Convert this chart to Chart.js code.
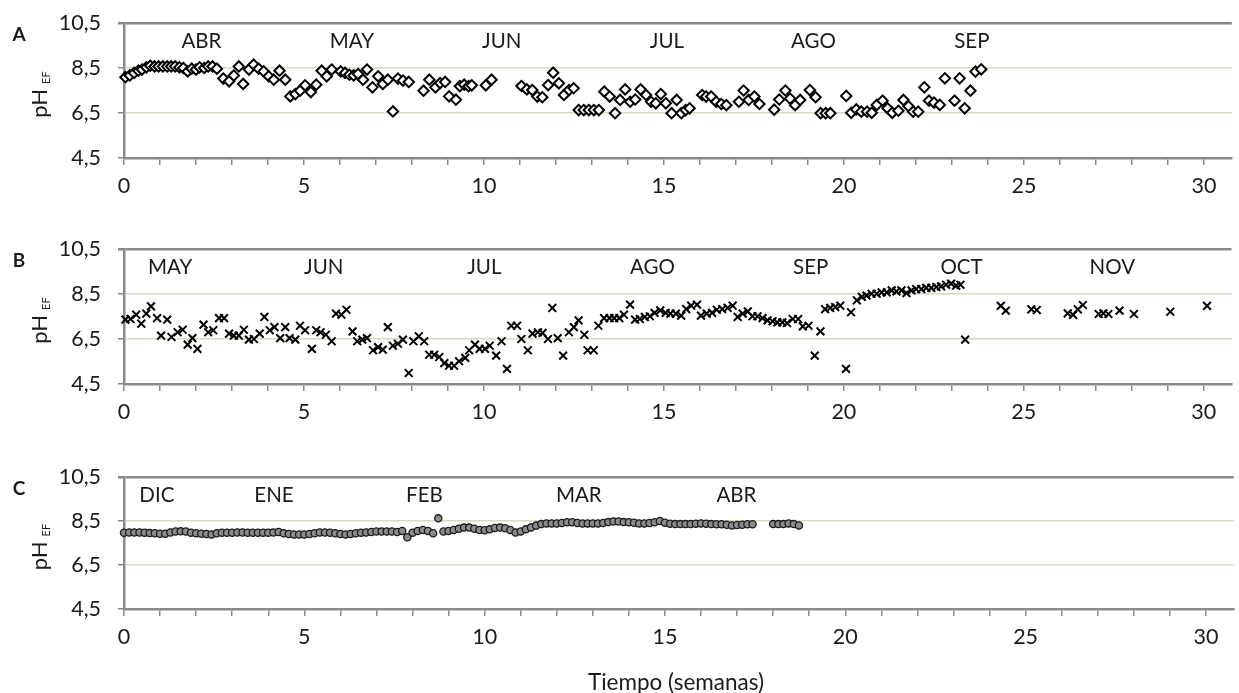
<!DOCTYPE html>
<html>
<head>
<meta charset="utf-8">
<script src="https://cdn.jsdelivr.net/npm/chart.js@4.4.1/dist/chart.umd.min.js"></script>
<style>
  html, body { margin: 0; padding: 0; background: #fff; }
  #wrap { position: relative; width: 1239px; height: 693px; overflow: hidden; }
  canvas { position: absolute; left: 0; }
</style>
</head>
<body>
<div id="wrap">
  <canvas id="cA" width="1239" height="215" style="top:0px"></canvas>
  <canvas id="cB" width="1239" height="215" style="top:226px"></canvas>
  <canvas id="cC" width="1239" height="239" style="top:454px"></canvas>
</div>
<script>
// ---- axis ticks ----
const xTicks = [0,1,2,3,4,5,6,7,8,9,10,11,12,13,14,15,16,17,18,19,20,21,22,23,24,25,26,27,28,29,30];
const yTicks = [4.5, 6.5, 8.5, 10.5];

// ---- panel A : tiempo (semanas) y pH efluente ----
const aWeeks = [0.04,0.16,0.28,0.40,0.50,0.62,0.73,0.85,0.96,1.08,1.20,1.31,1.42,1.54,1.65,1.77,1.88,2.00,2.10,2.23,2.34,2.46,2.58,2.76,2.92,3.05,3.19,3.31,3.47,3.60,3.74,3.88,4.02,4.16,4.32,4.48,4.62,4.76,4.89,5.03,5.19,5.34,5.49,5.63,5.77,6.02,6.14,6.26,6.38,6.50,6.64,6.75,6.90,7.06,7.19,7.33,7.47,7.61,7.75,7.91,8.32,8.48,8.65,8.78,8.92,9.03,9.22,9.33,9.45,9.57,9.66,10.05,10.21,11.04,11.19,11.34,11.48,11.62,11.78,11.92,12.08,12.22,12.36,12.49,12.63,12.77,12.91,13.05,13.19,13.34,13.49,13.64,13.78,13.92,14.06,14.20,14.35,14.50,14.64,14.77,14.91,15.05,15.21,15.35,15.48,15.60,15.71,16.06,16.17,16.31,16.45,16.59,16.73,17.08,17.21,17.35,17.51,17.65,18.06,18.20,18.37,18.50,18.64,18.78,19.05,19.21,19.35,19.49,19.62,20.06,20.20,20.34,20.48,20.64,20.77,20.91,21.07,21.21,21.34,21.51,21.65,21.79,21.92,22.06,22.23,22.36,22.50,22.66,22.80,23.07,23.21,23.35,23.51,23.65,23.81];
const aPH = [8.09,8.17,8.28,8.38,8.43,8.53,8.60,8.57,8.57,8.57,8.57,8.57,8.57,8.53,8.50,8.35,8.47,8.43,8.53,8.50,8.57,8.57,8.47,8.03,7.91,8.17,8.57,7.79,8.43,8.65,8.47,8.35,8.13,7.98,8.38,7.98,7.24,7.34,7.49,7.73,7.43,7.76,8.38,8.13,8.43,8.35,8.28,8.20,8.17,8.23,7.98,8.43,7.64,8.13,7.79,7.98,6.57,8.03,7.94,7.88,7.49,7.98,7.64,7.83,7.88,7.24,7.09,7.69,7.76,7.69,7.73,7.73,7.98,7.70,7.55,7.52,7.23,7.20,7.74,8.29,7.82,7.30,7.52,7.60,6.63,6.63,6.63,6.63,6.63,7.45,7.23,6.49,7.08,7.55,7.00,7.10,7.55,7.30,7.00,6.93,7.34,6.93,6.49,7.08,6.49,6.63,6.71,7.30,7.23,7.23,7.00,6.90,6.85,7.00,7.50,7.08,7.23,6.90,6.65,7.10,7.50,7.14,6.85,7.08,7.52,7.20,6.49,6.49,6.49,7.26,6.51,6.66,6.56,6.56,6.51,6.86,7.05,6.71,6.51,6.60,7.08,6.80,6.56,6.56,7.64,7.05,6.96,6.86,8.04,7.05,8.04,6.71,7.49,8.34,8.44];
const monthsA = ['ABR','MAY','JUN','JUL','AGO','SEP'];
const monthWeeksA = [2.15, 6.33, 10.49, 15.08, 19.15, 23.55];

// ---- panel B ----
const bWeeks = [0.04,0.18,0.34,0.48,0.62,0.75,0.92,1.03,1.20,1.32,1.49,1.63,1.77,1.90,2.04,2.21,2.34,2.48,2.64,2.78,2.92,3.05,3.19,3.33,3.47,3.61,3.77,3.90,4.05,4.18,4.34,4.48,4.60,4.76,4.89,5.03,5.22,5.34,5.46,5.61,5.77,5.89,6.04,6.18,6.35,6.48,6.62,6.75,6.92,7.06,7.19,7.33,7.47,7.61,7.75,7.91,8.04,8.19,8.34,8.48,8.62,8.76,8.90,9.03,9.17,9.31,9.48,9.59,9.75,9.88,10.03,10.16,10.34,10.49,10.64,10.76,10.92,11.04,11.22,11.35,11.50,11.63,11.78,11.90,12.05,12.20,12.36,12.50,12.63,12.79,12.88,13.05,13.18,13.34,13.49,13.62,13.76,13.89,14.06,14.20,14.33,14.47,14.61,14.74,14.90,15.05,15.18,15.33,15.48,15.62,15.76,15.92,16.03,16.19,16.34,16.47,16.62,16.77,16.91,17.05,17.19,17.33,17.46,17.60,17.74,17.88,18.02,18.15,18.29,18.42,18.58,18.73,18.86,19.02,19.19,19.35,19.48,19.62,19.76,19.90,20.06,20.20,20.36,20.50,20.63,20.77,20.91,21.05,21.19,21.33,21.46,21.60,21.74,21.88,22.01,22.15,22.29,22.43,22.57,22.70,22.84,22.98,23.12,23.24,23.37,24.36,24.50,25.21,25.36,26.22,26.37,26.50,26.64,27.08,27.21,27.35,27.66,28.06,29.07,30.09];
const bPH = [7.36,7.39,7.58,7.18,7.63,7.95,7.43,6.65,7.36,6.59,6.80,6.91,6.25,6.54,6.06,7.14,6.80,6.89,7.43,7.43,6.74,6.65,6.65,6.91,6.47,6.50,6.74,7.48,6.89,7.03,6.54,7.03,6.54,6.47,7.09,6.89,6.06,6.89,6.80,6.69,6.40,7.63,7.58,7.80,6.84,6.40,6.47,6.54,6.00,6.14,6.03,7.03,6.20,6.29,6.47,4.99,6.40,6.62,6.40,5.80,5.80,5.70,5.43,5.31,5.31,5.51,5.66,6.00,6.25,6.06,6.06,6.20,5.76,6.40,5.17,7.09,7.09,6.50,6.00,6.74,6.80,6.77,6.50,7.88,6.54,5.76,6.80,7.03,7.33,6.69,6.00,6.00,7.09,7.43,7.43,7.43,7.43,7.58,8.03,7.36,7.39,7.48,7.51,7.66,7.77,7.66,7.63,7.63,7.54,7.83,7.98,8.03,7.54,7.63,7.66,7.80,7.83,7.88,7.98,7.48,7.63,7.73,7.51,7.51,7.43,7.33,7.29,7.24,7.24,7.21,7.39,7.39,7.06,7.09,5.76,6.84,7.83,7.88,7.92,7.98,5.17,7.69,8.22,8.37,8.43,8.51,8.51,8.57,8.57,8.66,8.62,8.66,8.54,8.66,8.72,8.72,8.77,8.77,8.81,8.84,8.91,8.96,8.87,8.91,6.47,7.97,7.76,7.82,7.79,7.64,7.57,7.82,8.01,7.61,7.64,7.61,7.76,7.61,7.71,7.97];
const monthsB = ['MAY','JUN','JUL','AGO','SEP','OCT','NOV'];
const monthWeeksB = [1.28, 5.55, 10.01, 14.68, 19.08, 23.27, 27.46];

// ---- panel C : registro diario (días desde el inicio) ----
const cDays = [0,1,2,3,4,5,6,7,8,9,10,11,12,13,14,15,16,17,18,19,20,21,22,23,24,25,26,27,28,29,30,31,32,33,34,35,36,37,38,39,40,41,42,43,44,45,46,47,48,49,50,51,52,53,54,55,56,57,58,59,60,61,62,63,64,65,66,67,68,69,70,71,72,73,74,75,76,77,78,79,80,81,82,83,84,85,86,87,88,89,90,91,92,93,94,95,96,97,98,99,100,101,102,103,104,105,106,107,108,109,110,111,112,113,114,115,116,117,118,119,120,121,122,126,127,128,129,130,131];
const cPH = [7.97,7.98,7.98,7.98,7.97,7.95,7.94,7.92,7.92,7.98,8.02,8.03,8.02,7.97,7.94,7.92,7.91,7.89,7.94,7.97,7.97,7.97,7.98,7.98,7.97,7.97,7.97,7.97,7.97,7.98,8.00,7.94,7.91,7.89,7.89,7.89,7.91,7.94,7.98,7.98,7.97,7.94,7.91,7.89,7.91,7.94,7.97,7.98,8.00,8.02,8.02,8.02,8.02,8.00,8.05,7.76,7.97,8.05,8.09,8.05,7.94,8.62,8.02,8.05,8.09,8.15,8.20,8.20,8.15,8.09,8.08,8.12,8.18,8.20,8.17,8.09,7.98,8.02,8.12,8.21,8.29,8.36,8.39,8.39,8.39,8.41,8.44,8.44,8.41,8.39,8.39,8.39,8.39,8.41,8.45,8.48,8.48,8.45,8.44,8.42,8.39,8.39,8.41,8.44,8.50,8.42,8.38,8.36,8.36,8.36,8.36,8.38,8.39,8.38,8.36,8.35,8.35,8.33,8.30,8.32,8.33,8.35,8.35,8.36,8.36,8.36,8.39,8.36,8.30];
const monthsC = ['DIC','ENE','FEB','MAR','ABR'];
const monthWeeksC = [0.91, 4.16, 8.33, 12.61, 16.98];

// ---- styling ----
const FONT = 'Lato, "Liberation Sans", sans-serif';
const AXIS_GRAY = '#898989';
const GRID_KHAKI = '#dcd8c1';
const TEXT = '#1a1a1a';
const X_MAX = 30.77;

const fmtComma = v => Number(v).toFixed(1).replace('.', ',');

// panel letter, month names, subscripted y title and the shared x title
const decor = {
  id: 'decor',
  afterDraw(chart, args, o) {
    const { ctx, chartArea: a } = chart;
    const x = chart.scales.x;
    ctx.save();
    ctx.fillStyle = TEXT;
    ctx.textAlign = 'center';
    ctx.textBaseline = 'middle';

    ctx.font = `bold 19px ${FONT}`;
    ctx.fillText(o.panel, 19, a.top + 12);

    ctx.font = `20.5px ${FONT}`;
    o.months.forEach((m, i) => {
      ctx.fillText(m, x.getPixelForValue(o.monthWeeks[i]), a.top + 18);
    });

    // "pH" with subscript "EF", rotated
    ctx.save();
    const cy = (a.top + a.bottom) / 2 + 4;
    ctx.translate(47, cy);
    ctx.rotate(-Math.PI / 2);
    ctx.textAlign = 'left';
    ctx.textBaseline = 'alphabetic';
    ctx.font = `22px ${FONT}`;
    const w1 = ctx.measureText('pH').width;
    ctx.font = `11px ${FONT}`;
    const w2 = ctx.measureText('EF').width;
    const gap = 5;
    const start = -(w1 + gap + w2) / 2;
    ctx.font = `22px ${FONT}`;
    ctx.fillText('pH', start, 0);
    ctx.font = `11px ${FONT}`;
    ctx.fillText('EF', start + w1 + gap, 3);
    ctx.restore();

    if (o.xTitle) {
      ctx.font = `22.5px ${FONT}`;
      ctx.fillText(o.xTitle, 676, chart.height - 10);
    }
    ctx.restore();
  }
};

function makeChart(id, cfg) {
  const points = cfg.xs.map((v, i) => ({ x: v, y: cfg.ys[i] }));
  return new Chart(document.getElementById(id), {
    type: 'scatter',
    data: {
      datasets: [{
        label: 'pH',
        data: points,
        pointStyle: cfg.pointStyle,
        pointRadius: cfg.radius,
        pointBorderWidth: cfg.borderWidth,
        pointBorderColor: cfg.borderColor,
        pointBackgroundColor: cfg.fill,
        showLine: false,
        clip: false
      }]
    },
    options: {
      responsive: false,
      animation: false,
      events: [],
      // plot area runs to the canvas' right edge
      layout: { padding: { top: 23, left: 0, right: -5, bottom: 0 } },
      plugins: {
        legend: { display: false },
        tooltip: { enabled: false },
        decor: { panel: cfg.panel, months: cfg.months, monthWeeks: cfg.monthWeeks, xTitle: cfg.xTitle }
      },
      scales: {
        x: {
          type: 'linear',
          min: 0,
          max: X_MAX,
          afterBuildTicks: s => { s.ticks = xTicks.map(v => ({ value: v })); },
          ticks: {
            callback: v => (v % 5 === 0 ? String(v) : ''),
            autoSkip: false,
            maxRotation: 0,
            padding: 8,
            color: TEXT,
            font: { family: FONT, size: 21.5 }
          },
          grid: { drawOnChartArea: false, drawTicks: true, tickLength: 7, color: AXIS_GRAY, lineWidth: 1.5 },
          border: { display: true, color: AXIS_GRAY, width: 2.5 },
          afterFit: s => { s.height = cfg.axisHeight; s.paddingLeft = 0; s.paddingRight = 0; }
        },
        y: {
          type: 'linear',
          min: 4.5,
          max: 10.5,
          afterBuildTicks: s => { s.ticks = yTicks.map(v => ({ value: v })); },
          ticks: {
            callback: v => fmtComma(v),
            padding: 17,
            color: TEXT,
            font: { family: FONT, size: 21.5 }
          },
          grid: {
            color: c => {
              const v = c.tick ? c.tick.value : null;
              if (v === 10.5) return AXIS_GRAY;
              if (v === 4.5) return 'rgba(0,0,0,0)';
              return GRID_KHAKI;
            },
            lineWidth: c => (c.tick && c.tick.value === 10.5 ? 2.5 : 1.5),
            tickColor: AXIS_GRAY,
            tickLength: 6,
            drawTicks: true
          },
          border: { display: true, color: AXIS_GRAY, width: 2.5 },
          afterFit: s => { s.width = 124; s.paddingTop = 0; s.paddingBottom = 0; }
        }
      }
    },
    plugins: [decor]
  });
}

makeChart('cA', {
  xs: aWeeks, ys: aPH, panel: 'A', months: monthsA, monthWeeks: monthWeeksA,
  pointStyle: 'rectRot', radius: 5.2, borderWidth: 2, borderColor: '#000', fill: '#fff',
  axisHeight: 57
});
makeChart('cB', {
  xs: bWeeks, ys: bPH, panel: 'B', months: monthsB, monthWeeks: monthWeeksB,
  pointStyle: 'crossRot', radius: 5.5, borderWidth: 2, borderColor: '#000', fill: '#000',
  axisHeight: 57
});
makeChart('cC', {
  xs: cDays.map(d => d / 7), ys: cPH, panel: 'C', months: monthsC, monthWeeks: monthWeeksC,
  pointStyle: 'circle', radius: 3.6, borderWidth: 1.3, borderColor: '#1a1a1a', fill: '#8c8c8c',
  axisHeight: 84, xTitle: 'Tiempo (semanas)'
});
</script>
</body>
</html>
